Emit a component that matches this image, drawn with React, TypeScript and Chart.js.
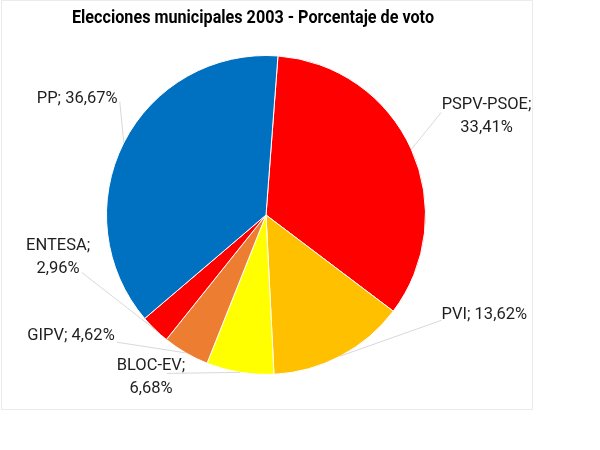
import React, { useEffect, useRef } from "react";
import { Chart, registerables } from "chart.js";

Chart.register(...registerables);

const TITLE = "Elecciones municipales 2003 - Porcentaje de voto";
const PARTIES = ["PSPV-PSOE", "PVI", "BLOC-EV", "GIPV", "ENTESA", "PP"];
const PERCENTS = [33.41, 13.62, 6.68, 4.62, 2.96, 36.67];
const COLORS = ["#FF0000", "#FFC000", "#FFFF00", "#ED7D31", "#FF0000", "#0070C0"];
const TWO_LINE_LABELS = [true, false, true, false, true, false];

// layout: label centre and leader attach point, as offsets from the slice's outer mid point
const LABEL_OFFSETS = [
  [75.2, -44.2], [143.7, -41.4], [-88.9, -6.2], [-114.8, -16.7], [-96.9, -83.4], [-46.6, -44.3],
];
const ATTACH_OFFSETS = [
  [29.9, -36.9], [100.9, -35.7], [-72.9, 1.1], [-69.1, -10.7], [-73.2, -57.1], [-4, -40.9],
];

const fmt = (v: number) => v.toFixed(2).replace(".", ",") + "%";

const decorPlugin = {
  id: "decor",
  beforeDraw(chart: any) {
    const ctx = chart.ctx;
    ctx.save();
    ctx.fillStyle = "#ffffff";
    ctx.fillRect(0, 0, chart.width, chart.height);
    ctx.strokeStyle = "#ebebeb";
    ctx.lineWidth = 1;
    ctx.strokeRect(1.5, 0.5, 531, 409);
    ctx.restore();
  },
  afterDraw(chart: any) {
    const ctx = chart.ctx;
    ctx.save();
    // title
    ctx.font = "bold 18px Roboto";
    ctx.fillStyle = "#000000";
    ctx.textAlign = "center";
    ctx.textBaseline = "middle";
    const w = ctx.measureText(TITLE).width;
    ctx.save();
    ctx.translate(253, 18);
    ctx.scale(362 / w, 1);
    ctx.fillText(TITLE, 0, 0);
    ctx.restore();

    const meta = chart.getDatasetMeta(0);
    meta.data.forEach((arc: any, i: number) => {
      const p = arc.getProps(["x", "y", "startAngle", "endAngle", "outerRadius"], true);
      const mid = (p.startAngle + p.endAngle) / 2;
      const ex = p.x + Math.cos(mid) * p.outerRadius;
      const ey = p.y + Math.sin(mid) * p.outerRadius;
      const ax = ex + ATTACH_OFFSETS[i][0];
      const ay = ey + ATTACH_OFFSETS[i][1];
      ctx.strokeStyle = "#d9d9d9";
      ctx.lineWidth = 1;
      ctx.beginPath();
      ctx.moveTo(ax, ay);
      ctx.lineTo(ex, ey);
      ctx.stroke();

      const lx = ex + LABEL_OFFSETS[i][0];
      const ly = ey + LABEL_OFFSETS[i][1];
      ctx.font = "16.5px Roboto";
      ctx.fillStyle = "#1f1f1f";
      ctx.textAlign = "center";
      ctx.textBaseline = "middle";
      const name = PARTIES[i] + ";";
      const val = fmt(PERCENTS[i]);
      if (TWO_LINE_LABELS[i]) {
        ctx.fillText(name, lx, ly);
        ctx.fillText(val, lx, ly + 22.5);
      } else {
        ctx.fillText(name + " " + val, lx, ly);
      }
    });
    ctx.restore();
  },
};

export default function App() {
  const ref = useRef<HTMLCanvasElement | null>(null);
  useEffect(() => {
    if (!ref.current) return;
    const chart = new Chart(ref.current, {
      type: "pie",
      data: {
        labels: PARTIES,
        datasets: [
          {
            data: PERCENTS,
            backgroundColor: COLORS,
            borderColor: "#ffffff",
            borderWidth: 1,
          },
        ],
      },
      options: {
        responsive: false,
        animation: false,
        rotation: 4.3,
        layout: { padding: { left: 106, right: 174, top: 55, bottom: 75 } },
        plugins: {
          legend: { display: false },
          title: { display: false },
          tooltip: { enabled: false },
        },
      },
      plugins: [decorPlugin],
    });
    return () => chart.destroy();
  }, []);
  return (
    <div style={{ position: "fixed", left: 0, top: 0, width: 600, height: 450, background: "#fff" }}>
      <canvas ref={ref} width={600} height={450} />
    </div>
  );
}
